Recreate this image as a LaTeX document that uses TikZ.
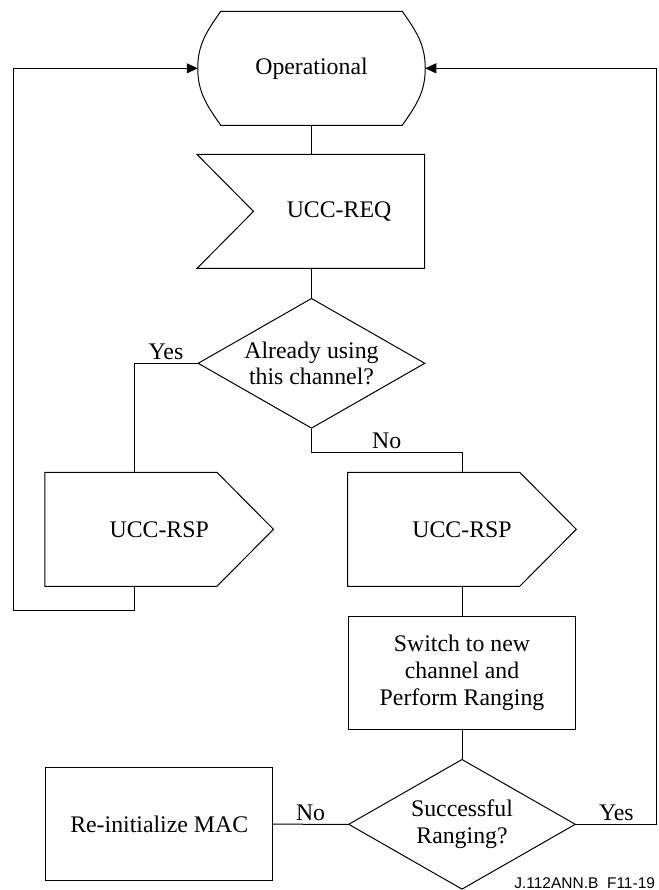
\documentclass[tikz,border=0pt]{standalone}
\usepackage{fontspec}
\setmainfont{Liberation Serif}
\newfontfamily\tagfont{Liberation Sans}
\usetikzlibrary{positioning,arrows.meta,shapes.geometric,calc}

\begin{document}
\begin{tikzpicture}[x=1pt, y=-1pt, >={Triangle[length=11pt,width=10pt]},
    line width=1pt, font=\fontsize{23.8}{26.7}\selectfont,
    slot/.style={rectangle, inner sep=0pt, minimum height=113pt},
    box/.style={draw, rectangle, inner sep=0pt, align=center, minimum width=227pt, minimum height=113pt},
    ask/.style={draw, diamond, inner sep=0pt, align=center, aspect=1.746, minimum width=227pt, minimum height=130pt}]
    \useasboundingbox (0,0) rectangle (658,890);
    % state
    \node[slot, minimum width=226.5pt] (op) at (311.5,68.3) {Operational};
    \draw ([xshift=23pt]op.north west) -- ([xshift=-23pt]op.north east) to[out=-55,in=90] (op.east)
      to[out=-90,in=55] ([xshift=-23pt]op.south east) -- ([xshift=23pt]op.south west)
      to[out=125,in=-90] (op.west) to[out=90,in=-125] cycle;
    % input signal
    \node[slot, minimum width=170pt] (req) at (339,211.4) {UCC-REQ};
    \draw ([xshift=-56.5pt]req.north west) -- (req.north east) -- (req.south east)
      -- ([xshift=-56.5pt]req.south west) -- (req.west) -- cycle;
    % decision on the channel
    \node[ask] (use) at (311.5,363.3) {Already using\\this channel?};
    % output signals
    \node[slot, minimum width=227.6pt] (rspL) at (159.2,529.3) {UCC-RSP};
    \node[slot, minimum width=227.6pt] (rspR) at (462,529.3) {UCC-RSP};
    \foreach \n in {rspL,rspR}
      \draw (\n.north west) -- ([xshift=-56.6pt]\n.north east) -- (\n.east)
        -- ([xshift=-56.6pt]\n.south east) -- (\n.south west) -- cycle;
    % ranging
    \node[box] (switch) at (462,673) {Switch to new\\channel and\\Perform Ranging};
    \node[ask] (ranged) at (462,824.3) {Successful\\Ranging?};
    \node[box] (reinit) at (159.2,824.2) {Re-initialize MAC};
    \node[font=\tagfont\fontsize{15.5}{18}\selectfont, anchor=east, inner sep=0pt] (tag) at (655.5,882.7) {J.112ANN.B\ \ F11-19};
    % return paths
    \coordinate (backL) at (13.9,610.7);
    \coordinate (backR) at (656.7,68.3);
    \draw (op.south) -- (op.south |- req.north);
    \draw (use.north |- req.south) -- (use.north);
    \draw (use.west) -| node[pos=0.25, above] {Yes} ([xshift=-24.7pt]rspL.north);
    \draw (use.south) -- ++(0,23.4) -| node[pos=0.25, above] {No} (rspR.north);
    \draw[->] ([xshift=-24.7pt]rspL.south) |- (backL) |- (op.west);
    \draw (rspR.south) -- (switch.north);
    \draw (switch.south) -- (ranged.north);
    \draw (ranged.west) -- node[above] {No} (reinit.east);
    \draw[->] (ranged.east) -| node[pos=0.25, above] {Yes} (backR) -- (op.east);
\end{tikzpicture}
\end{document}
